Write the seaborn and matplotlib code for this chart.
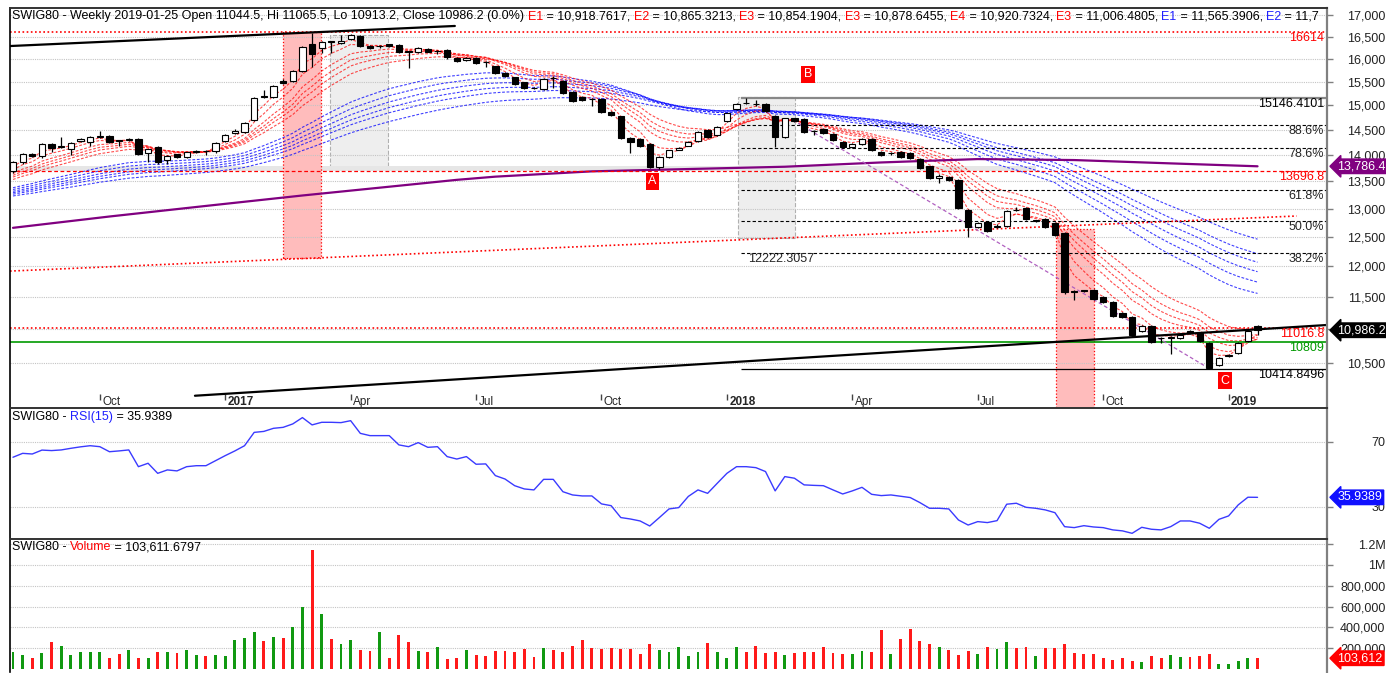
import numpy as np
import pandas as pd
import seaborn as sns
import matplotlib
matplotlib.use("Agg")
import matplotlib.pyplot as plt
from matplotlib.patches import Rectangle
from matplotlib.ticker import FixedLocator, FixedFormatter

# weekly SWIG80 candles, 2016-08-05 .. 2019-01-25
dates = pd.date_range("2016-08-05", periods=130, freq="W-FRI")

opens = [13697, 13868, 14022, 13984, 14218, 14159, 14120, 14270, 14257, 14360,
         14376, 14290, 14297, 14317, 14041, 14159, 13906, 14022, 13964, 14061,
         14090, 14081, 14277, 14440, 14456, 14698, 15195, 15174, 15505, 15514,
         15730, 16330, 16240, 16395, 16350, 16442, 16514, 16286, 16280, 16330,
         16308, 16165, 16150, 16217, 16170, 16195, 16017, 15972, 16017, 15930,
         15840, 15687, 15600, 15493, 15375, 15343, 15580, 15514, 15280, 15174,
         15140, 15132, 14862, 14780, 14337, 14317, 14218, 13772, 13964, 14110,
         14178, 14277, 14496, 14396, 14678, 14924, 15055, 15030, 15028, 14780,
         14356, 14739, 14719, 14476, 14516, 14416, 14257, 14159, 14218, 14317,
         14061, 14041, 14061, 14041, 13925, 13791, 13564, 13582, 13526, 12976,
         12674, 12762, 12680, 12692, 12980, 13012, 12775, 12815, 12745, 12569,
         11600, 11610, 11615, 11502, 11423, 11251, 11189, 10974, 11051, 10870,
         10875, 10868, 10974, 10943, 10793, 10469, 10600, 10645, 10823, 11044.5]
highs = [13880, 14040, 14050, 14230, 14240, 14356, 14250, 14330, 14370, 14476,
         14390, 14300, 14330, 14337, 14130, 14170, 13995, 14030, 14070, 14095,
         14100, 14250, 14410, 14520, 14650, 15170, 15322, 15420, 15560, 15745,
         16280, 16578, 16390, 16410, 16535, 16550, 16530, 16300, 16310, 16340,
         16330, 16175, 16260, 16230, 16190, 16210, 16030, 16030, 16030, 15950,
         15850, 15700, 15610, 15500, 15385, 15570, 15620, 15530, 15300, 15190,
         15150, 15150, 14880, 14790, 14350, 14330, 14230, 13975, 14110, 14150,
         14270, 14470, 14510, 14570, 14850, 15040, 15146.41, 15110, 15040, 14800,
         14750, 14750, 14730, 14490, 14530, 14430, 14270, 14230, 14330, 14330,
         14075, 14060, 14075, 14055, 13940, 13800, 13640, 13600, 13540, 12990,
         12760, 12775, 12720, 12975, 13030, 13025, 12800, 12830, 12760, 12580,
         11610, 11620, 11630, 11515, 11435, 11265, 11200, 11060, 11065, 10890,
         10900, 10930, 10990, 10955, 10805, 10585, 10630, 10805, 10990, 11065.5]
lows = [13650, 13830, 13960, 13945, 14061, 14140, 14003, 14260, 14178, 14340,
        14240, 14178, 14280, 14003, 13868, 13830, 13830, 13950, 13950, 14040,
        14003, 14041, 14260, 14420, 14440, 14680, 15150, 15160, 15460, 15500,
        15715, 15818, 16128, 16128, 16330, 16420, 16270, 16220, 16240, 16270,
        16130, 15796, 16130, 16140, 16100, 16000, 15930, 15960, 15890, 15818,
        15670, 15600, 15430, 15350, 15340, 15330, 15360, 15240, 15070, 15090,
        14980, 14840, 14780, 14320, 14041, 14160, 13753, 13734, 13950, 14100,
        14170, 14260, 14340, 14380, 14660, 14910, 15020, 14990, 14870, 14159,
        14340, 14660, 14440, 14400, 14420, 14280, 14140, 14140, 14200, 14080,
        13990, 14000, 13950, 13930, 13740, 13550, 13470, 13510, 12995, 12500,
        12660, 12590, 12650, 12680, 12960, 12800, 12760, 12660, 12520, 11550,
        11455, 11580, 11455, 11410, 11190, 11175, 10900, 10960, 10795, 10793,
        10630, 10850, 10930, 10810, 10414.85, 10455, 10585, 10630, 10810, 10913.2]
closes = [13868, 14022, 13984, 14218, 14139, 14170, 14238, 14310, 14356, 14370,
          14257, 14277, 14310, 14022, 14120, 13868, 13984, 13964, 14061, 14081,
          14080, 14238, 14396, 14470, 14638, 15153, 15170, 15408, 15480, 15730,
          16262, 16105, 16376, 16370, 16398, 16535, 16286, 16240, 16295, 16286,
          16150, 16150, 16240, 16150, 16175, 16039, 15950, 16017, 15906, 15928,
          15687, 15622, 15450, 15365, 15360, 15557, 15578, 15259, 15090, 15111,
          15125, 14862, 14800, 14337, 14257, 14178, 13772, 13964, 14100, 14139,
          14257, 14456, 14356, 14557, 14841, 15028, 15040, 15025, 14882, 14356,
          14739, 14678, 14456, 14470, 14437, 14297, 14159, 14218, 14317, 14100,
          14003, 14045, 13964, 13945, 13753, 13564, 13601, 13526, 13012, 12674,
          12745, 12604, 12690, 12958, 12976, 12815, 12790, 12674, 12534, 11583,
          11585, 11598, 11470, 11423, 11205, 11189, 10913, 11051, 10808, 10868,
          10890, 10913, 10943, 10823, 10426, 10571, 10615, 10793, 10974, 10986.2]
volume = [164, 132, 110, 151, 262, 224, 132, 167, 167, 161,
          110, 145, 180, 104, 110, 161, 167, 155, 180, 139,
          123, 132, 123, 274, 300, 356, 268, 303, 297, 404,
          593, 1145, 533, 290, 240, 281, 186, 174, 360, 110,
          325, 259, 174, 167, 208, 95, 104, 180, 132, 123,
          174, 174, 161, 189, 114, 202, 180, 161, 218, 274,
          199, 189, 202, 189, 189, 145, 237, 180, 167, 208,
          129, 160, 246, 167, 104, 208, 167, 218, 158, 167,
          136, 158, 167, 167, 208, 158, 142, 142, 174, 167,
          375, 142, 290, 388, 268, 237, 208, 186, 139, 174,
          142, 208, 189, 262, 202, 208, 123, 199, 202, 237,
          151, 142, 142, 101, 85, 110, 79, 66, 123, 104,
          132, 114, 114, 129, 145, 50, 50, 79, 101, 103.612]  # thousands
rsi = [60.6, 63.0, 62.6, 65.0, 64.7, 65.1, 66.1, 67.0, 67.7, 67.1,
       64.0, 64.5, 65.1, 54.8, 56.9, 50.7, 52.8, 52.2, 54.8, 55.4,
       55.4, 58.5, 61.6, 64.5, 67.7, 75.9, 76.5, 78.4, 79.0, 81.1,
       85.0, 80.5, 82.1, 82.1, 81.9, 83.1, 75.3, 73.9, 73.9, 73.9,
       68.2, 67.1, 69.6, 66.7, 67.1, 61.0, 59.5, 61.0, 56.3, 56.5,
       49.3, 47.2, 43.1, 41.1, 40.5, 47.0, 47.0, 39.4, 37.4, 36.8,
       36.8, 31.9, 30.8, 23.5, 22.6, 21.4, 18.3, 23.5, 28.8, 29.6,
       36.5, 40.5, 38.4, 44.6, 50.7, 54.8, 54.8, 54.2, 51.8, 39.9,
       48.7, 47.7, 43.6, 43.3, 43.1, 40.5, 38.0, 39.9, 42.1, 37.8,
       37.0, 37.4, 36.6, 35.8, 32.7, 29.2, 29.2, 28.8, 22.0, 18.9,
       21.0, 20.4, 21.6, 31.7, 32.3, 29.8, 29.2, 28.2, 26.5, 17.9,
       17.3, 18.5, 17.7, 17.3, 15.9, 15.3, 13.8, 17.5, 16.3, 15.9,
       17.9, 21.4, 21.4, 20.0, 16.9, 22.4, 24.5, 31.3, 36.0, 35.9389]

# guppy EMA ribbons: (span, value just before the first week)
short_emas = [(3, 13680), (5, 13640), (8, 13590), (10, 13560), (12, 13530), (15, 13490)]
long_emas = [(30, 13350), (35, 13320), (40, 13290), (45, 13265), (50, 13240), (60, 13210)]

# long moving average (purple)
ma_weeks = [0, 10, 20, 30, 40, 46, 50, 60, 70, 80, 90, 100, 110, 120, 129]
ma_values = [12660, 12860, 13050, 13240, 13420, 13530, 13590, 13690, 13734, 13778,
             13860, 13925, 13906, 13842, 13786.4]

# drawn objects (week index, price)
fib_high, fib_low = 15146.4101, 10414.8496
fib_ratios = [0.886, 0.786, 0.618, 0.5, 0.382]
fib_start = 75.5
top_trend = [(-0.31, 16285), (45.8, 16744)]
bottom_trend = [(18.86, 10033), (136.1, 11065)]
red_trend = [(-0.31, 11924), (133.06, 12869)]
abc_trend = [(80.83, 14698), (123.73, 10440)]
pink_boxes = [(27.98, 31.92, 12142, 16614), (108.08, 112.0, 9800, 12639)]
grey_boxes = [(32.85, 38.86, 13772, 16535), (75.13, 81.04, 12482, 15174)]
points_abc = [("A", 66.3, 13507), ("B", 82.4, 15658), ("C", 125.6, 10240)]

sns.set_style("white")
plt.rcParams['font.family'] = ['Liberation Sans', 'DejaVu Sans']

df = pd.DataFrame({"week": np.arange(len(dates)), "open": opens, "high": highs,
                   "low": lows, "close": closes, "volume": np.array(volume) * 1000,
                   "rsi": rsi})
up = df["close"] >= df["open"]

W, H = 1386, 673
fig = plt.figure(figsize=(W / 100, H / 100), dpi=100)
L, AW = 10 / W, 1317 / W
ax_p = fig.add_axes([L, 1 - 408 / H, AW, 400 / H])
ax_r = fig.add_axes([L, 1 - 539 / H, AW, 131 / H])
ax_v = fig.add_axes([L, 1 - 672 / H, AW, 133 / H])
XMAX = 136.2
RED, BLUE, GREEN, PURPLE = "#ff0000", "#2020ff", "#009900", "#800080"

# ---------------- price panel ----------------
ax_p.set_yscale("log")
ax_p.set_ylim(9864, 17166)
ax_p.set_xlim(-0.31, XMAX)

for x0, x1, y0, y1 in pink_boxes:
    ax_p.add_patch(Rectangle((x0, y0), x1 - x0, y1 - y0, fc="#ffbcbc", ec=RED,
                             ls=":", lw=0.9, zorder=0.5))
for x0, x1, y0, y1 in grey_boxes:
    ax_p.add_patch(Rectangle((x0, y0), x1 - x0, y1 - y0, fc="#eeeeee", ec="#b0b0b0",
                             ls="--", lw=0.8, zorder=0.4))
ax_p.add_patch(Rectangle((-0.31, 13697), 106.3, 100, fc="#e6e6e6", ec="none", zorder=0.4))

# EMA ribbons
for span, seed in long_emas:
    e = pd.Series([seed] + closes).ewm(span=span, adjust=False).mean().iloc[1:].values
    ax_p.plot(df["week"], e, color="#0000ff", ls=(0, (2.5, 1.5)), lw=0.8, alpha=0.75, zorder=1.5)
for span, seed in short_emas:
    e = pd.Series([seed] + closes).ewm(span=span, adjust=False).mean().iloc[1:].values
    ax_p.plot(df["week"], e, color=RED, ls=(0, (2.5, 1.5)), lw=0.8, alpha=0.7, zorder=1.6)

sns.lineplot(x=ma_weeks, y=ma_values, ax=ax_p, color=PURPLE, lw=1.6, zorder=2)

# horizontal levels
ax_p.axhline(16614, color=RED, ls=(0, (1, 1.5)), lw=1.2, zorder=2)
ax_p.axhline(11016.8, color=RED, ls=(0, (1, 1.5)), lw=1.2, zorder=2)
ax_p.axhline(13696.8, color=RED, ls=(0, (3, 2)), lw=0.9, zorder=2)
ax_p.axhline(10809, color=GREEN, lw=1.2, zorder=2)
ax_p.hlines(fib_high, fib_start, XMAX, color="#888888", lw=1.6, zorder=2)
ax_p.hlines(fib_low, fib_start, XMAX, color="black", lw=0.9, zorder=2)
for r in fib_ratios:
    lv = fib_low + r * (fib_high - fib_low)
    ax_p.hlines(lv, fib_start, XMAX, color="black", ls=(0, (3, 2)), lw=0.8, zorder=2)
    ax_p.text(XMAX - 0.3, lv, f"{r * 100:.1f}%", ha="right", va="top", fontsize=9, zorder=5)
ax_p.text(fib_start + 0.7, fib_low + 0.382 * (fib_high - fib_low), "12222.3057",
          ha="left", va="top", fontsize=9, zorder=5)

# trend lines
for pts, kw in [(top_trend, dict(color="black", lw=1.6)),
                (bottom_trend, dict(color="black", lw=1.6)),
                (red_trend, dict(color=RED, ls=(0, (1, 1.5)), lw=1.2)),
                (abc_trend, dict(color="#b060c0", ls=(0, (3, 2)), lw=0.9))]:
    ax_p.plot([p[0] for p in pts], [p[1] for p in pts], zorder=2.2, **kw)

# candles
ax_p.vlines(df["week"], df["low"], df["high"], color="black", lw=0.9, zorder=3)
body_lo = np.minimum(df["open"], df["close"])
body_h = np.maximum(np.abs(df["close"] - df["open"]), 1)
ax_p.bar(df["week"], body_h, bottom=body_lo, width=0.65,
         color=np.where(up, "white", "black"), edgecolor="black", lw=0.8, zorder=3.2)

for s, x, y in points_abc:
    ax_p.text(x, y, s, color="white", ha="center", va="center", fontsize=9, zorder=6,
              bbox=dict(boxstyle="square,pad=0.2", fc=RED, ec="none"))

for val, txt, col in [(16614, "16614", RED), (fib_high, "15146.4101", "black"),
                      (13696.8, "13696.8", RED), (11016.8, "11016.8", RED),
                      (10809, "10809", GREEN), (fib_low, "10414.8496", "black")]:
    ax_p.text(XMAX - 0.3, val, txt, ha="right", va="top", fontsize=9, color=col, zorder=5)

# 11,000 sits under the last-close marker, so its label stays empty
price_ticks = list(range(10500, 17001, 500))
ax_p.yaxis.set_major_locator(FixedLocator(price_ticks))
ax_p.yaxis.set_major_formatter(FixedFormatter(["" if t == 11000 else f"{t:,}" for t in price_ticks]))
ax_p.yaxis.set_minor_locator(FixedLocator([]))

# date axis band
tick_idx, tick_lab = [], []
for y, m in [(2016, 10), (2017, 1), (2017, 4), (2017, 7), (2017, 10), (2018, 1),
             (2018, 4), (2018, 7), (2018, 10), (2019, 1)]:
    k = int(np.argmax((dates.year == y) & (dates.month == m)))
    tick_idx.append(k)
    tick_lab.append(str(y) if m == 1 else dates[k].strftime("%b"))
ax_p.vlines(tick_idx, 0.02, 0.034, transform=ax_p.get_xaxis_transform(), color="#444444", lw=1)
for k, lab in zip(tick_idx, tick_lab):
    ax_p.text(k + 0.25, 0.016, lab, transform=ax_p.get_xaxis_transform(), ha="left",
              va="center", fontsize=8.5, fontweight="bold" if lab.isdigit() else "normal")

# ---------------- RSI panel ----------------
sns.lineplot(x=df["week"], y=df["rsi"], ax=ax_r, color="#3a3aff", lw=1)
ax_r.set_ylim(10.3, 90.9)
ax_r.set_xlim(-0.31, XMAX)
ax_r.yaxis.set_major_locator(FixedLocator([30, 70]))
ax_r.yaxis.set_major_formatter(FixedFormatter(["30", "70"]))

# ---------------- volume panel ----------------
ax_v.bar(df["week"], df["volume"], width=0.3, color=np.where(up, "#119911", "#ff1a1a"), lw=0, zorder=3)
ax_v.set_ylim(-29000, 1.25e6)
ax_v.set_xlim(-0.31, XMAX)
vticks = [200000, 400000, 600000, 800000, 1000000, 1200000]
ax_v.yaxis.set_major_locator(FixedLocator(vticks))
ax_v.yaxis.set_major_formatter(FixedFormatter(["200,000", "400,000", "600,000", "800,000", "1M", "1.2M"]))

# common styling
for ax in (ax_p, ax_r, ax_v):
    ax.set_xlabel("")
    ax.set_ylabel("")
    ax.set_xticks([])
    ax.grid(axis="y", color="#c4c4c4", ls=(0, (1, 1)), lw=0.8)
    ax.set_axisbelow(True)
    ax.yaxis.tick_right()
    ax.tick_params(axis="y", which="major", direction="out", length=4, width=1,
                   color="#808080", labelsize=9, pad=38, labelcolor="#222222")
    plt.setp(ax.get_yticklabels(), ha="right")
    ax.spines["left"].set_color("black")
    ax.spines["left"].set_linewidth(1.2)
    ax.spines["right"].set_color("#808080")
    ax.spines["right"].set_linewidth(1.6)
    ax.spines["bottom"].set_visible(False)
    ax.spines["top"].set_color("#333333")
    ax.spines["top"].set_linewidth(1.4)

# value markers on the right axis
def tag(ax, y, txt, col, dy=0):
    ax.text(1.008, y, txt, transform=ax.get_yaxis_transform(), ha="left", va="center",
            color="white", fontsize=9, zorder=10, clip_on=False,
            bbox=dict(boxstyle="larrow,pad=0.1", fc=col, ec=col))

tag(ax_p, 10986.2, "10,986.2", "black")
tag(ax_p, 13786.4, "13,786.4", PURPLE)
tag(ax_r, 35.9389, "35.9389", "#1010ff")
tag(ax_v, 103612, "103,612", RED)

# panel headers with coloured parts
renderer = fig.canvas.get_renderer()

def header(ax, yfrac, pieces):
    xd = ax.transAxes.transform((0.0016, yfrac))[0]
    for s, c in pieces:
        xf = ax.transAxes.inverted().transform((xd, 0))[0]
        t = ax.text(xf, yfrac, s, color=c, transform=ax.transAxes, ha="left", va="center",
                    fontsize=9, clip_on=True, zorder=8)
        xd = t.get_window_extent(renderer).x1

head = [("SWIG80 - Weekly 2019-01-25 Open 11044.5, Hi 11065.5, Lo 10913.2, Close 10986.2 (0.0%) ", "black")]
for lab, val, col in [("E1", "10,918.7617", RED), ("E2", "10,865.3213", RED), ("E3", "10,854.1904", RED),
                      ("E3", "10,878.6455", RED), ("E4", "10,920.7324", RED), ("E3", "11,006.4805", RED),
                      ("E1", "11,565.3906", BLUE)]:
    head += [(lab, col), (f" = {val}, ", "black")]
head += [("E2", BLUE), (" = 11,7", "black")]
header(ax_p, 1 - 8.5 / 400, head)
header(ax_r, 1 - 9 / 131, [("SWIG80 - ", "black"), ("RSI(15)", BLUE), (" = 35.9389", "black")])
header(ax_v, 1 - 8.5 / 133, [("SWIG80 - ", "black"), ("Volume", RED), (" = 103,611.6797", "black")])

fig.savefig("out.png", dpi=100, facecolor="white")
